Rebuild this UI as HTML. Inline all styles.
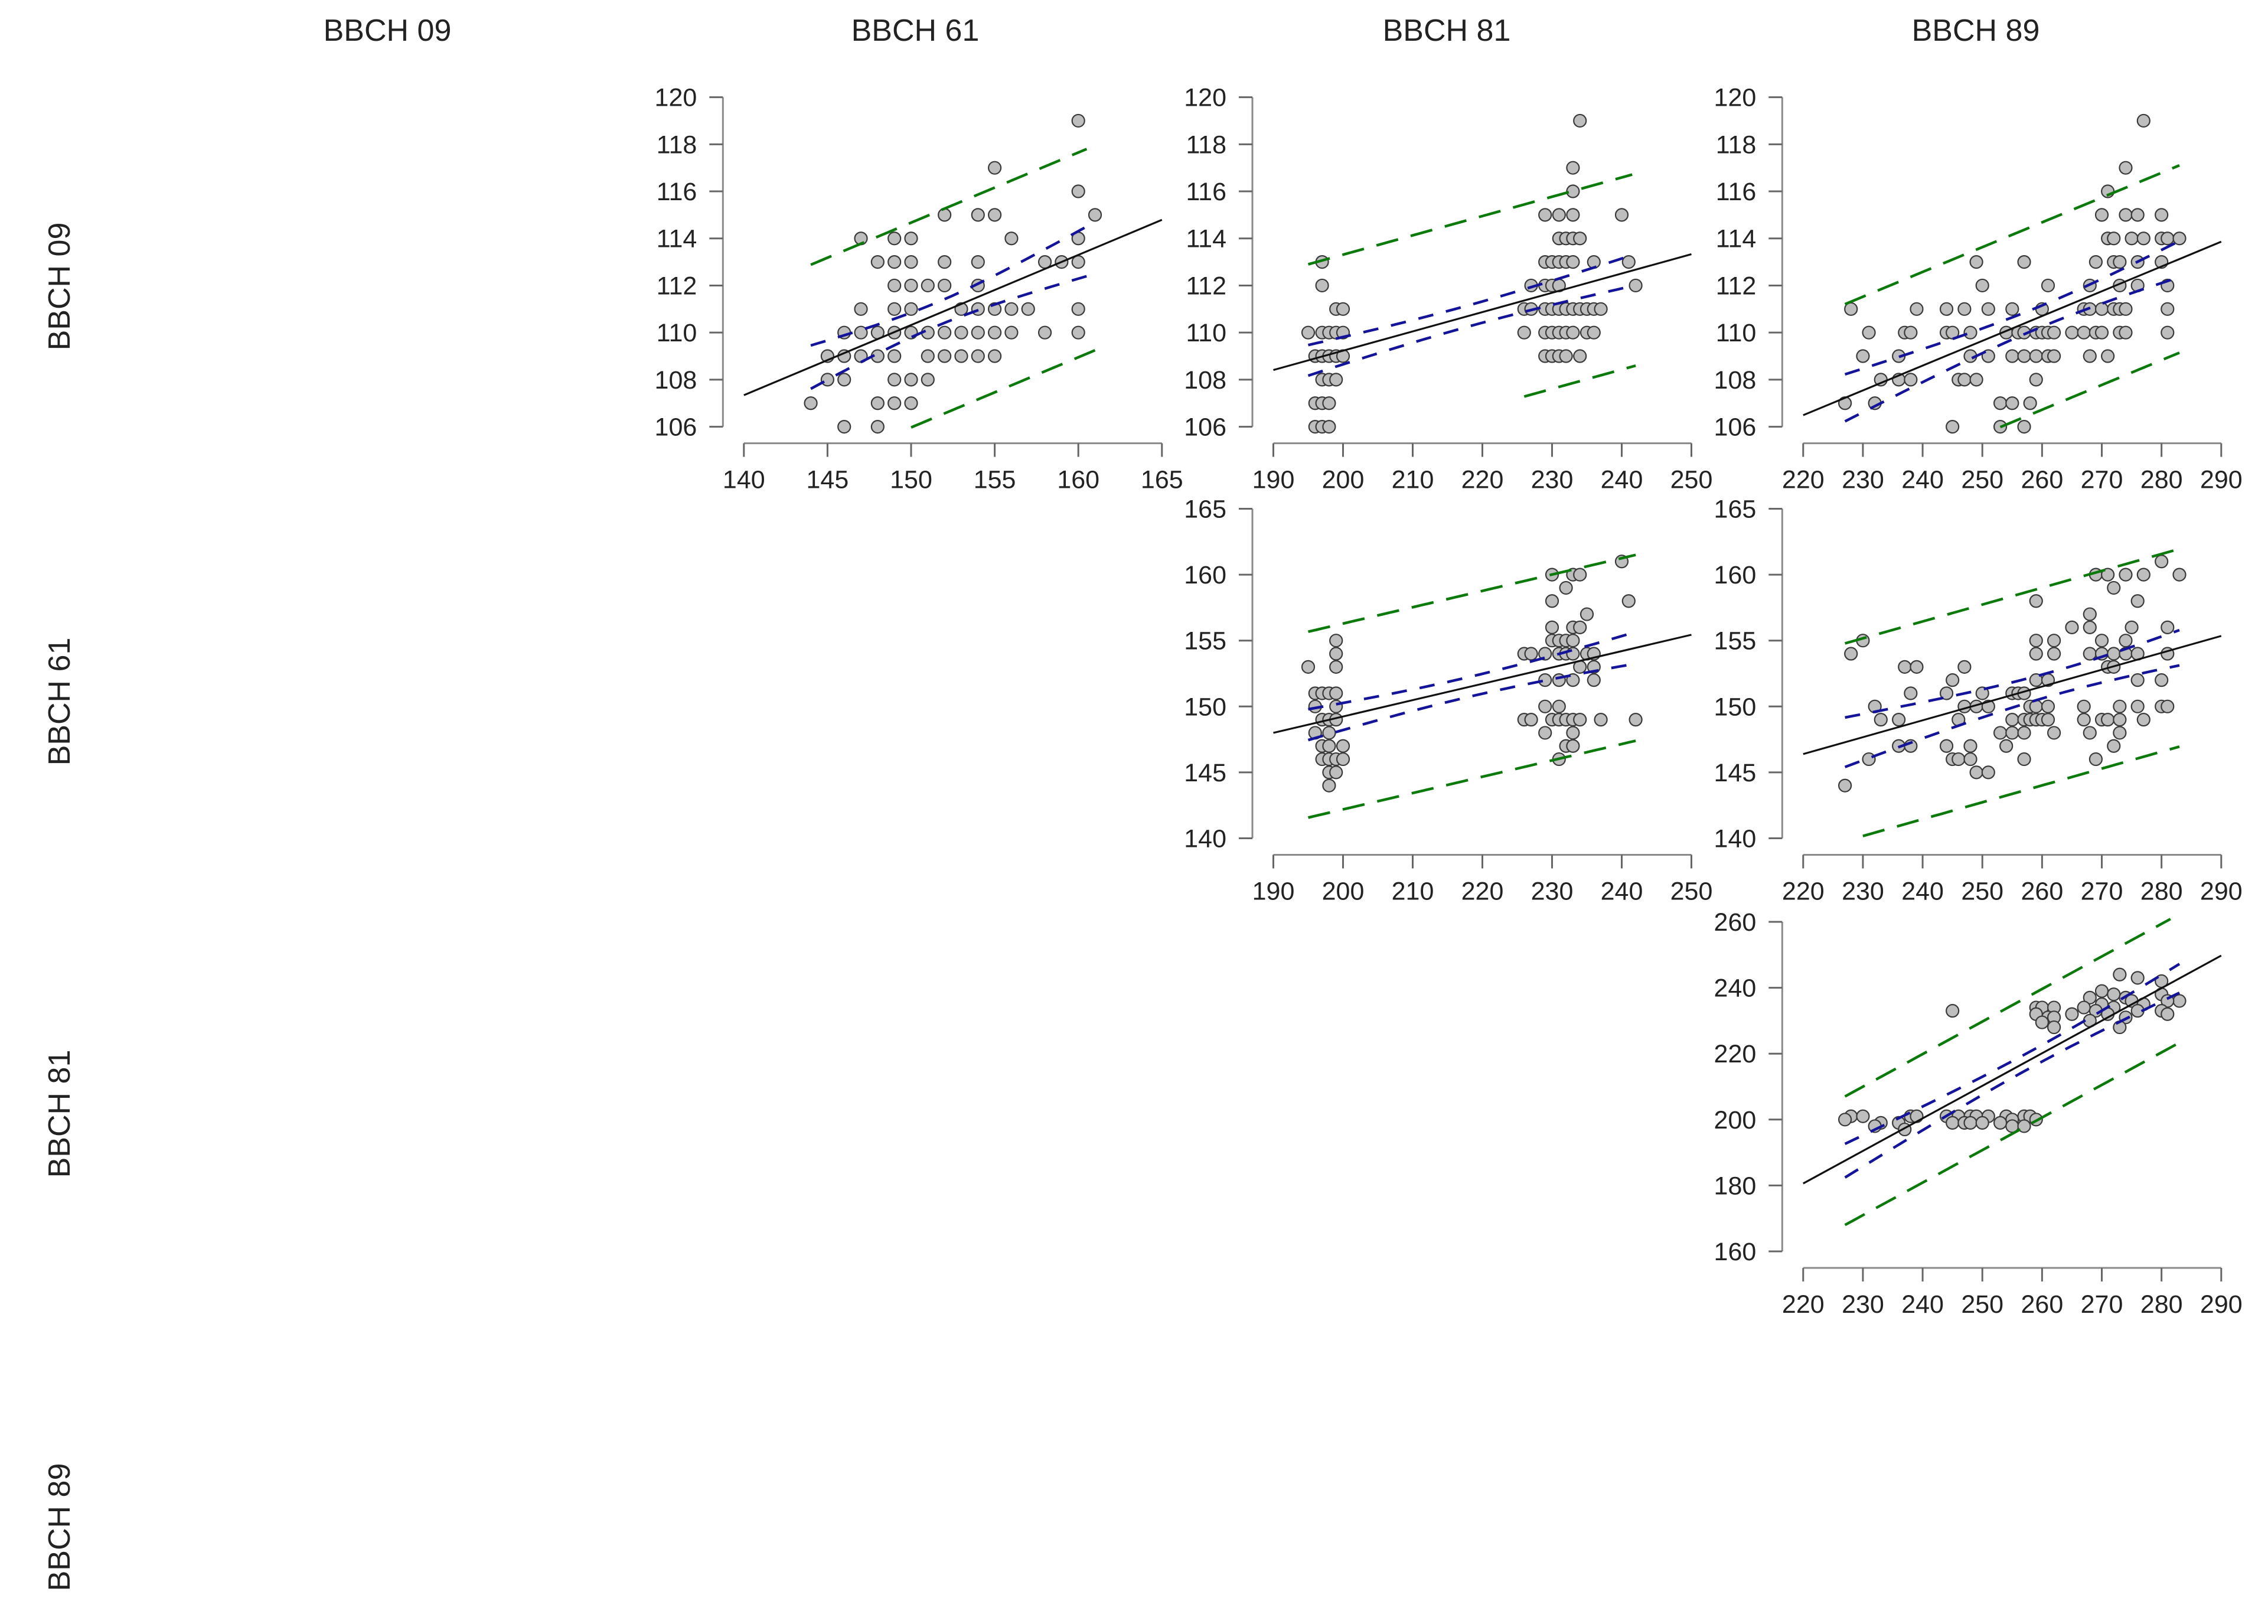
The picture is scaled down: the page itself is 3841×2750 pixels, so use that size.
<!DOCTYPE html>
<html><head><meta charset="utf-8"><style>
html,body{margin:0;padding:0;background:#fff;}
svg{display:block;}
text{font-family:"Liberation Sans",Arial,sans-serif;fill:#222;}
</style></head><body>
<svg id="fig" width="3841" height="2750" viewBox="0 0 3841 2750" xmlns="http://www.w3.org/2000/svg">
<g>
<text x="656" y="69" font-size="52" text-anchor="middle">BBCH 09</text>
<text x="1550" y="69" font-size="52" text-anchor="middle">BBCH 61</text>
<text x="2450" y="69" font-size="52" text-anchor="middle">BBCH 81</text>
<text x="3346" y="69" font-size="52" text-anchor="middle">BBCH 89</text>
</g>
<g>
<text x="0" y="0" font-size="52" text-anchor="middle" transform="translate(118,485) rotate(-90)">BBCH 09</text>
<text x="0" y="0" font-size="52" text-anchor="middle" transform="translate(118,1188) rotate(-90)">BBCH 61</text>
<text x="0" y="0" font-size="52" text-anchor="middle" transform="translate(118,1886) rotate(-90)">BBCH 81</text>
<text x="0" y="0" font-size="52" text-anchor="middle" transform="translate(118,2586) rotate(-90)">BBCH 89</text>
</g>
</svg>
<script>
// ---- data: points grouped by y value: [y, [x values]] ----
const p1Points = [[119,[160]],[117,[155]],[116,[160]],[115,[152,154,155,161]],[114,[147,149,150,156,160]],
 [113,[148,149,150,152,154,158,159,160]],[112,[149,150,151,152,154]],[111,[147,149,150,153,154,155,156,157,160]],
 [110,[146,147,148,149,150,151,152,153,154,155,156,158,160]],[109,[145,146,147,148,149,151,152,153,154,155]],
 [108,[145,146,149,150,151]],[107,[144,148,149,150]],[106,[146,148]]];
const p2Points = [[119,[234]],[117,[233]],[116,[233]],[115,[229,231,233,240]],[114,[231,232,233,234]],
 [113,[197,229,230,231,232,233,236,241]],[112,[197,227,229,230,231,242]],
 [111,[199,200,226,227,229,230,231,232,233,234,235,236,237]],[110,[195,197,198,199,200,226,229,230,231,232,233,235,236]],
 [109,[196,197,198,199,200,229,230,231,232,234]],[108,[197,198,199]],[107,[196,197,198]],[106,[196,197,198]]];
const p3Points = [[119,[277]],[117,[274]],[116,[271]],[115,[270,274,276,280]],[114,[271,272,275,277,280,281,283]],
 [113,[249,257,269,272,273,276,280]],[112,[250,261,268,273,276,281]],
 [111,[228,239,244,247,251,255,260,267,268,270,272,273,274,281]],
 [110,[231,237,238,244,245,248,254,256,257,259,260,261,262,265,267,269,270,273,274,281]],
 [109,[230,236,248,251,255,257,259,261,262,268,271]],[108,[233,236,238,246,247,249,259]],
 [107,[227,232,253,255,258]],[106,[245,253,257]]];
const p4Points = [[161,[240]],[160,[230,233,234]],[159,[232]],[158,[230,241]],[157,[235]],[156,[230,233,234]],
 [155,[199,230,231,232,233]],[154,[199,226,227,229,231,232,233,235,236]],[153,[195,199,234,236]],
 [152,[229,231,233,236]],[151,[196,197,198,199]],[150,[196,199,229,231]],
 [149,[197,198,199,226,227,230,231,232,233,234,237,242]],[148,[196,198,229,233]],
 [147,[197,198,200,232,233]],[146,[197,198,199,200,231]],[145,[198,199]],[144,[198]]];
const p5Points = [[161,[280]],[160,[269,271,274,277,283]],[159,[272]],[158,[259,276]],[157,[268]],
 [156,[265,268,275,281]],[155,[230,259,262,270,274]],[154,[228,259,262,268,270,272,274,276,281]],
 [153,[237,239,247,271,272]],[152,[245,259,261,276,280]],[151,[238,244,250,255,256,257]],
 [150,[232,247,249,251,258,259,261,267,273,276,280,281]],
 [149,[233,236,246,255,257,258,259,260,261,267,270,271,273,277]],[148,[253,255,257,262,268,273]],
 [147,[236,238,244,248,254,272]],[146,[231,245,246,248,257,269]],[145,[249,251]],[144,[227]]];
const p6Points = [[244,[273]],[243,[276]],[242,[280]],[239,[270]],[238,[280,272]],[237,[268,274]],
 [236,[283,281,275]],[235,[277,270]],[234,[267,272,259,260,262]],[233,[280,276,269,245]],
 [232,[281,265,271,259]],[231,[274,261,262]],[230,[268]],[229.5,[260]],[228,[273,262]],
 [201,[228,230,238,239,244,246,248,249,251,254,257,258]],[200,[227,255,259]],
 [199,[233,236,245,247,248,250,253]],[198,[232,255,257]],[197,[237]]];
// ---- fits: intercept at x-axis min, slope, CI centre/shape, PI half-width ----
const fitIntercept = [107.34, 108.41, 106.49, 148.0, 146.39, 180.6];
const fitSlope     = [0.298, 0.082, 0.1053, 0.124, 0.128, 0.988];
const ciXbar       = [151.5, 218, 260, 218, 262, 258];
const ciH0         = [0.5, 0.45, 0.45, 0.75, 0.9, 2.5];
const ciK          = [0.103, 0.0204, 0.027, 0.039, 0.0471, 0.1435];
const piHalf       = [4.35, 4.08, 3.98, 7.05, 7.5, 19.5];
const ciRange      = [[144,161],[195,242],[227,283],[195,242],[227,283],[227,283]];
const piUpperRange = [[144,160.5],[195,241.5],[227,283],[195,242],[227,283],[227,281.5]];
const piLowerRange = [[150,161],[226,242],[253,283],[195,242],[230,283],[227,283]];
// ---- axes ----
const xTicksCol = {1:[140,145,150,155,160,165], 2:[190,200,210,220,230,240,250], 3:[220,230,240,250,260,270,280,290]};
const yTicksRow = {0:[106,108,110,112,114,116,118,120], 1:[140,145,150,155,160,165], 2:[160,180,200,220,240,260]};

const panelCells = [[0,1],[0,2],[0,3],[1,2],[1,3],[2,3]];
const panelPoints = [p1Points,p2Points,p3Points,p4Points,p5Points,p6Points];
const colX0 = {1:1259.8, 2:2156.5, 3:3053.8};
const rowY0 = {0:164.6, 1:861.5, 2:1561};
const PW = 708, PH = 558;
const NS = 'http://www.w3.org/2000/svg';
const svg = document.getElementById('fig');

function mk(tag, attrs, parent){
  const e = document.createElementNS(NS, tag);
  for (const k in attrs) e.setAttribute(k, attrs[k]);
  parent.appendChild(e);
  return e;
}

panelCells.forEach(function(cell, i){
  const row = cell[0], col = cell[1];
  const xt = xTicksCol[col], yt = yTicksRow[row];
  const xmin = xt[0], xmax = xt[xt.length-1], ymin = yt[0], ymax = yt[yt.length-1];
  const x0 = colX0[col], y0 = rowY0[row];
  const sx = function(v){ return x0 + (v - xmin) / (xmax - xmin) * PW; };
  const sy = function(v){ return y0 + (ymax - v) / (ymax - ymin) * PH; };
  const g = mk('g', {}, svg);
  
  

  // y axis
  const ax = x0 - 35.5;
  const ya = mk('g', {}, g);
  
  
  mk('line', {x1:ax, x2:ax, y1:sy(ymin), y2:sy(ymax), stroke:'#8a8a8a', 'stroke-width':3}, ya);
  yt.forEach(function(t){
    mk('line', {x1:ax-23, x2:ax, y1:sy(t), y2:sy(t), stroke:'#666', 'stroke-width':3}, ya);
    const tx = mk('text', {x:ax-44, y:sy(t)+15, 'font-size':43, 'text-anchor':'end'}, ya);
    
    
    tx.textContent = t;
  });
  // x axis
  const ay = y0 + PH + 28;
  const xa = mk('g', {}, g);
  
  
  mk('line', {x1:sx(xmin), x2:sx(xmax), y1:ay, y2:ay, stroke:'#8a8a8a', 'stroke-width':3}, xa);
  xt.forEach(function(t){
    mk('line', {x1:sx(t), x2:sx(t), y1:ay, y2:ay+23, stroke:'#666', 'stroke-width':3}, xa);
    const tx = mk('text', {x:sx(t), y:ay+76, 'font-size':43, 'text-anchor':'middle'}, xa);
    
    
    tx.textContent = t;
  });

  // points
  const pg = mk('g', {}, g);
  
  
  panelPoints[i].forEach(function(grp){
    grp[1].forEach(function(xv){
      const c = mk('circle', {cx:sx(xv), cy:sy(grp[0]), r:10.5, fill:'#bebebe', stroke:'#3a3a3a', 'stroke-width':2.2}, pg);
      
      
    });
  });

  const fit = function(x){ return fitIntercept[i] + fitSlope[i] * (x - xmin); };
  const ciH = function(x){ return Math.sqrt(ciH0[i]*ciH0[i] + ciK[i]*ciK[i]*(x-ciXbar[i])*(x-ciXbar[i])); };
  function curve(r, fn){
    const pts = [];
    for (let s = 0; s <= 40; s++){ const x = r[0] + (r[1]-r[0]) * s / 40; pts.push(sx(x).toFixed(1) + ',' + sy(fn(x)).toFixed(1)); }
    return pts.join(' ');
  }
  const pu = mk('polyline', {points:curve(piUpperRange[i], function(x){return fit(x)+piHalf[i];}), fill:'none', stroke:'#0b7a0b', 'stroke-width':4.5, 'stroke-dasharray':'38 22'}, g);
  
  
  const pl = mk('polyline', {points:curve(piLowerRange[i], function(x){return fit(x)-piHalf[i];}), fill:'none', stroke:'#0b7a0b', 'stroke-width':4.5, 'stroke-dasharray':'38 22'}, g);
  
  
  const cu = mk('polyline', {points:curve(ciRange[i], function(x){return fit(x)+ciH(x);}), fill:'none', stroke:'#14149a', 'stroke-width':4.5, 'stroke-dasharray':'26 22'}, g);
  
  
  const cl = mk('polyline', {points:curve(ciRange[i], function(x){return fit(x)-ciH(x);}), fill:'none', stroke:'#14149a', 'stroke-width':4.5, 'stroke-dasharray':'26 22'}, g);
  
  
  const rl = mk('line', {x1:sx(xmin), y1:sy(fit(xmin)), x2:sx(xmax), y2:sy(fit(xmax)), stroke:'#111', 'stroke-width':3.2}, g);
  
  
});
</script>
</body></html>
